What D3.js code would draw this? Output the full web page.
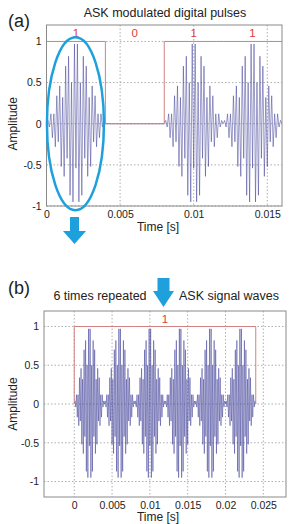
<!DOCTYPE html>
<html><head><meta charset="utf-8">
<script src="https://cdn.jsdelivr.net/npm/d3@7"></script>
<style>body{margin:0;background:#fff}svg{display:block;font-family:"Liberation Sans",Arial,sans-serif}</style>
</head><body><svg id="c" width="290" height="524"></svg>
<script>
// ---- data ----
const bitDuration = 0.004;
const bitsA = [1, 0, 1, 1];
const bitsB = [1, 1, 1, 1, 1, 1];
const bitLabelsA = ["1", "0", "1", "1"];
const bitLabelB = "1";
// carrier samples within one "1" bit (every 0.0001 s)
const pulseSamples = [0, 0.04, -0.04, 0.12, -0.17, 0.12, -0.28, 0.34, -0.22, 0.46, -0.52, 0.32, -0.64, 0.70, -0.42, 0.82,
  -0.87, 0.50, -0.95, 0.97, -0.54, 0.97, -0.95, 0.50, -0.87, 0.82, -0.42, 0.70, -0.64, 0.32, -0.52, 0.46, -0.22, 0.34,
  -0.28, 0.12, -0.17, 0.12, -0.04, 0.04, 0];
const ampTicks = [-1, -0.5, 0, 0.5, 1];
const ampTickLabels = ["-1", "-0.5", "0", "0.5", "1"];
const timeTicksA = [0, 0.005, 0.01, 0.015];
const timeTickLabelsA = ["0", "0.005", "0.01", "0.015"];
const timeTicksB = [0, 0.005, 0.01, 0.015, 0.02, 0.025];
const timeTickLabelsB = ["0", "0.005", "0.01", "0.015", "0.02", "0.025"];

const svg = d3.select("#c");
const sigColor = "#3a3a94", redLine = "#d08282", redText = "#e03a3a", blue = "#1ea0dc", frameColor = "#8a8a8a";

function buildSignal(bits) {
  const pts = [];
  const n = pulseSamples.length - 1;
  bits.forEach((b, k) => {
    pulseSamples.forEach((v, i) => {
      if (k > 0 && i === 0) return;
      pts.push([k * bitDuration + i * bitDuration / n, b ? v : 0]);
    });
  });
  return pts;
}
function buildSquare(bits) {
  const pts = [];
  bits.forEach((b, k) => { pts.push([k * bitDuration, b]); pts.push([(k + 1) * bitDuration, b]); });
  return pts;
}

function panel(o) {
  const g = svg.append("g");
  const x = d3.scaleLinear().domain(o.xdom).range([o.left, o.right]);
  const y = d3.scaleLinear().domain(o.ydom).range([o.bottom, o.top]);
  // grid
  g.append("g").selectAll("line").data(o.xticks).join("line")
    .attr("x1", d => x(d)).attr("x2", d => x(d)).attr("y1", o.top).attr("y2", o.bottom)
    .attr("stroke", "#9a9a9a").attr("stroke-width", 0.8).attr("stroke-dasharray", "1.5,2");
  g.append("g").selectAll("line").data(ampTicks).join("line")
    .attr("x1", o.left).attr("x2", o.right).attr("y1", d => y(d)).attr("y2", d => y(d))
    .attr("stroke", "#9a9a9a").attr("stroke-width", 0.8).attr("stroke-dasharray", "1.5,2");
  const clipId = "clip" + o.id;
  svg.append("clipPath").attr("id", clipId).append("rect")
    .attr("x", o.left).attr("y", o.top).attr("width", o.right - o.left).attr("height", o.bottom - o.top);
  const line = d3.line().x(d => x(d[0])).y(d => y(d[1]));
  g.append("path").datum(buildSignal(o.bits)).attr("d", line).attr("fill", "none")
    .attr("stroke", sigColor).attr("stroke-width", 0.9).attr("stroke-opacity", 0.55).attr("clip-path", `url(#${clipId})`);
  g.append("path").datum(o.square).attr("d", line).attr("fill", "none")
    .attr("stroke", redLine).attr("stroke-width", 1).attr("clip-path", `url(#${clipId})`);
  // frame
  g.append("rect").attr("x", o.left).attr("y", o.top).attr("width", o.right - o.left).attr("height", o.bottom - o.top)
    .attr("fill", "none").attr("stroke", frameColor).attr("stroke-width", 1);
  // axes
  const ax = g.append("g").attr("transform", `translate(0,${o.bottom})`)
    .call(d3.axisBottom(x).tickValues(o.xticks).tickFormat((d, i) => o.xlabels[i]).tickSize(0).tickPadding(5));
  ax.select(".domain").remove();
  ax.selectAll("text").attr("font-size", 10.5).attr("fill", "#222").attr("font-family", "Liberation Sans, Arial, sans-serif");
  const ay = g.append("g").attr("transform", `translate(${o.left},0)`)
    .call(d3.axisLeft(y).tickValues(ampTicks).tickFormat((d, i) => ampTickLabels[i]).tickSize(0).tickPadding(5));
  ay.select(".domain").remove();
  ay.selectAll("text").attr("font-size", 10.5).attr("fill", "#222").attr("font-family", "Liberation Sans, Arial, sans-serif");
  // axis titles
  g.append("text").attr("x", o.xTitleX).attr("y", o.xTitleY).attr("text-anchor", "middle")
    .attr("font-size", 12).attr("fill", "#222").text("Time [s]");
  g.append("text").attr("transform", `translate(${o.yTitleX},${y(0)}) rotate(-90)`).attr("text-anchor", "middle")
    .attr("font-size", 12).attr("fill", "#222").text("Amplitude");
  // bit labels
  g.selectAll("text.bit").data(o.bitLabels).join("text").attr("class", "bit")
    .attr("x", d => x(d.t)).attr("y", y(1.1) + 4).attr("text-anchor", "middle")
    .attr("font-size", 11.5).attr("fill", redText).text(d => d.s);
  return { x, y };
}

const a = panel({
  id: "a", left: 46.5, right: 282, top: 25, bottom: 206, xdom: [0, 0.016], ydom: [-1, 1.2],
  xticks: timeTicksA, xlabels: timeTickLabelsA, bits: bitsA, square: buildSquare(bitsA),
  bitLabels: bitLabelsA.map((s, k) => ({ s, t: (k + 0.5) * bitDuration })),
  xTitleX: 158, xTitleY: 231, yTitleX: 17
});
const b = panel({
  id: "b", left: 44, right: 286, top: 311, bottom: 497, xdom: [-0.004, 0.028], ydom: [-1.2, 1.2],
  xticks: timeTicksB, xlabels: timeTickLabelsB, bits: bitsB, square: [[0, 0], ...buildSquare(bitsB), [bitsB.length * bitDuration, 0]],
  bitLabels: [{ s: bitLabelB, t: bitsB.length * bitDuration / 2 }],
  xTitleX: 158, xTitleY: 521, yTitleX: 17
});

// titles
svg.append("text").attr("x", 8).attr("y", 27).attr("font-size", 18).attr("fill", "#222").text("(a)");
svg.append("text").attr("x", 165).attr("y", 17).attr("text-anchor", "middle").attr("font-size", 12.5).attr("fill", "#222").text("ASK modulated digital pulses");
svg.append("text").attr("x", 8).attr("y", 294).attr("font-size", 18).attr("fill", "#222").text("(b)");
svg.append("text").attr("x", 100).attr("y", 300).attr("text-anchor", "middle").attr("font-size", 12.5).attr("fill", "#222").text("6 times repeated");
svg.append("text").attr("x", 229).attr("y", 300).attr("text-anchor", "middle").attr("font-size", 12.5).attr("fill", "#222").text("ASK signal waves");

// ellipse highlighting the first pulse
svg.append("ellipse").attr("cx", a.x(bitDuration / 2) - 0.5).attr("cy", a.y(0)).attr("rx", 28.5).attr("ry", 86.5)
  .attr("fill", "none").attr("stroke", blue).attr("stroke-width", 2.5);

// arrows
function arrow(cx, y0, yHead, yTip, shaftW, headW) {
  svg.append("path").attr("fill", blue)
    .attr("d", `M${cx - shaftW / 2},${y0} L${cx + shaftW / 2},${y0} L${cx + shaftW / 2},${yHead} L${cx + headW / 2},${yHead} L${cx},${yTip} L${cx - headW / 2},${yHead} L${cx - shaftW / 2},${yHead} Z`);
}
arrow(74.5, 217, 231, 244, 9, 23);
arrow(163.5, 278, 291, 307, 12, 21);
</script></body></html>
